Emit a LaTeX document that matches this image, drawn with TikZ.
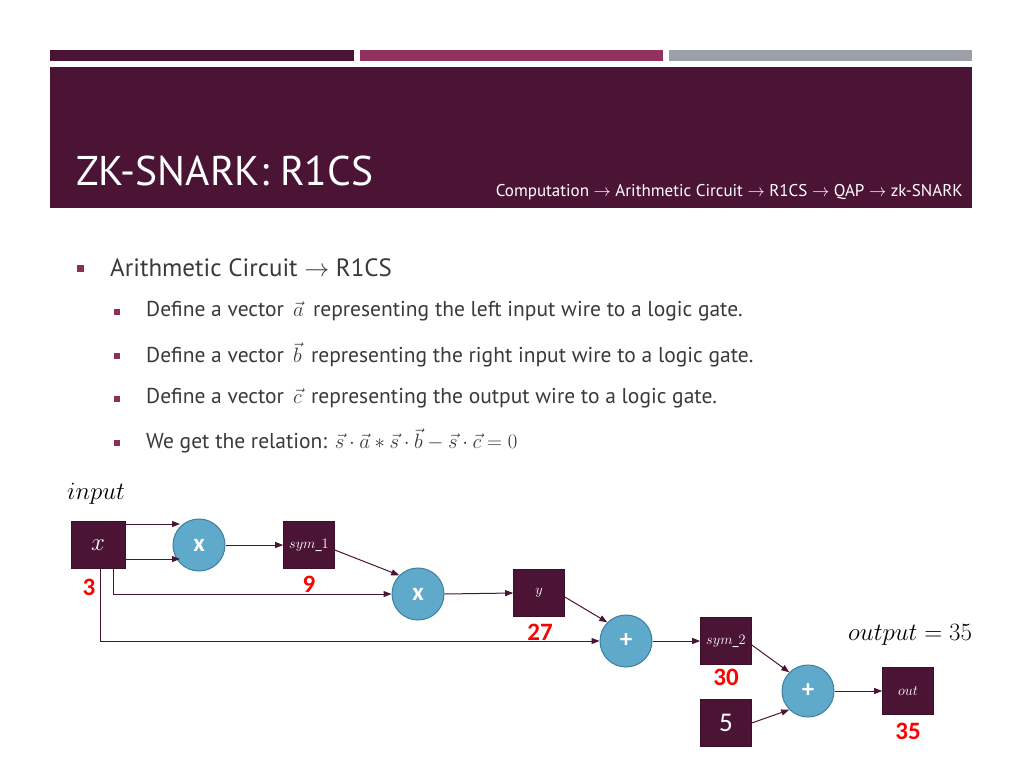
\documentclass[tikz,border=0pt]{standalone}
\usepackage{fontspec}
\setmainfont{PT Sans}
\newfontfamily\numfont{Carlito}
\usetikzlibrary{arrows.meta}
\definecolor{maroon}{HTML}{4B1434}
\definecolor{plum}{HTML}{93325F}
\definecolor{bargray}{HTML}{9AA0A6}
\definecolor{bullet}{HTML}{8A2E5A}
\definecolor{txt}{HTML}{3A3A3A}
\definecolor{gatefill}{HTML}{5FA9CA}
\definecolor{gateline}{HTML}{3F7F9C}
\definecolor{numred}{HTML}{FF0000}
\tikzset{
  wirebox/.style={draw=maroon!80!black, fill=maroon, minimum width=51pt, minimum height=47pt, inner sep=0pt, text=white, line width=0.6pt},
  gate/.style={circle, draw=gateline, fill=gatefill, minimum size=52pt, inner sep=0pt, text=white, line width=1pt, font=\fontsize{25}{25}\selectfont\numfont\bfseries},
  wire/.style={draw=maroon, line width=1pt, -{Triangle[length=8pt,width=6pt]}},
  val/.style={text=numred, font=\fontsize{25}{25}\selectfont\numfont\bfseries, inner sep=0pt},
  sq/.style={fill=bullet, minimum size=7pt, inner sep=0pt},
  sqs/.style={fill=bullet, minimum size=6pt, inner sep=0pt},
  lvl1/.style={anchor=west, text=txt, inner sep=0pt, font=\fontsize{25}{28}\selectfont},
  lvl2/.style={anchor=west, text=txt, inner sep=0pt, font=\fontsize{21.5}{24}\selectfont},
  blabel/.style={font=\fontsize{15}{15}\selectfont},
}
\begin{document}
\begin{tikzpicture}[x=1pt,y=-1pt]
\useasboundingbox (0,0) rectangle (1024,768);
\fill[white] (0,0) rectangle (1024,768);
% top bars
\fill[maroon] (50,50) rectangle (354,61);
\fill[plum] (360,50) rectangle (663,61);
\fill[bargray] (669,50) rectangle (972,61);
% header
\fill[maroon] (50,67) rectangle (972,208);
\node[anchor=base west, text=white, inner sep=0pt, font=\fontsize{41.5}{44}\selectfont] (title) at (76,185) {ZK-SNARK: R1CS};
\node[anchor=base east, text=white, inner sep=0pt, font=\fontsize{17}{19}\selectfont] (sub) at (963,196) {Computation $\rightarrow$ Arithmetic Circuit $\rightarrow$ R1CS $\rightarrow$ QAP $\rightarrow$ zk-SNARK};
% bullets
\node[sq] (b0) at (80,268) {};
\node[lvl1] (t0) at (110,268) {Arithmetic Circuit $\rightarrow$ R1CS};
\node[sqs] (b1) at (117,312) {};
\node[lvl2] (t1) at (146,311) {Define a vector $\,\vec{a}\,$ representing the left input wire to a logic gate.};
\node[sqs] (b2) at (117,356) {};
\node[lvl2] (t2) at (146,355) {Define a vector $\,\vec{b}\,$ representing the right input wire to a logic gate.};
\node[sqs] (b3) at (117,399) {};
\node[lvl2] (t3) at (146,398) {Define a vector $\,\vec{c}\,$ representing the output wire to a logic gate.};
\node[sqs] (b4) at (117,443) {};
\node[lvl2] (t4) at (146,441) {We get the relation: $\vec{s}\cdot\vec{a} * \vec{s}\cdot\vec{b} - \vec{s}\cdot\vec{c} = 0$};
% labels
\node[anchor=west, inner sep=0pt, font=\fontsize{27}{27}\selectfont] (inp) at (67,494) {$input$};
\node[anchor=west, inner sep=0pt, font=\fontsize{28}{28}\selectfont] (outp) at (848,635) {$output = 35$};
% boxes
\node[wirebox, minimum width=54pt, font=\fontsize{27}{27}\selectfont] (x) at (98,545) {$x$};
\node[wirebox, blabel] (s1) at (309,545) {$sym\_1$};
\node[wirebox, blabel] (y) at (539,593) {$y$};
\node[wirebox, blabel] (s2) at (726,641) {$sym\_2$};
\node[wirebox, font=\fontsize{27}{27}\selectfont\numfont] (five) at (726,723) {5};
\node[wirebox, blabel] (out) at (908,691) {$out$};
% gates
\node[gate] (g1) at (199,545) {x};
\node[gate] (g2) at (418,594) {x};
\node[gate] (g3) at (626,641) {+};
\node[gate] (g4) at (808,691) {+};
% values
\node[val] (v3) at (89,587) {3};
\node[val] (v9) at (309,584) {9};
\node[val] (v27) at (540,632) {27};
\node[val] (v30) at (726,677) {30};
\node[val] (v35) at (908,731) {35};
% wires
\coordinate (c1) at (180,524);
\coordinate (c2) at (180,559);
\draw[wire] (x.east |- c1) -- (c1);
\draw[wire] (x.east |- c2) -- (c2);
\draw[wire] (g1.east) -- (s1.west);
\draw[wire] ([yshift=-5pt]s1.east) -- (g2.north west);
\draw[wire] ([xshift=15pt]x.south) |- (g2.west);
\draw[wire] (g2.east) -- (y.west);
\draw[wire] ([yshift=-4pt]y.east) -- (g3.north west);
\draw[wire] ([xshift=2pt]x.south) |- (g3.west);
\draw[wire] (g3.east) -- (s2.west);
\draw[wire] ([yshift=-4pt]s2.east) -- (g4.north west);
\draw[wire] (five.east) -- (g4.south west);
\draw[wire] (g4.east) -- (out.west);
\end{tikzpicture}
\end{document}
